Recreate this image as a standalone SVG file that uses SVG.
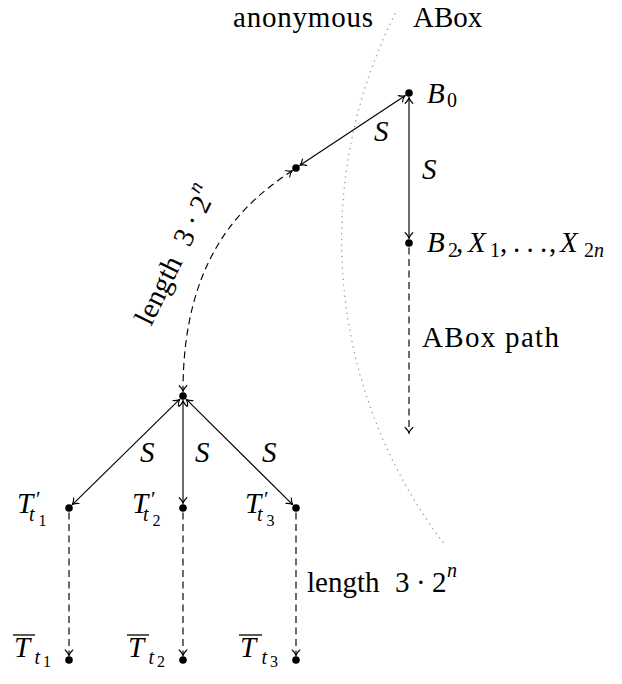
<svg xmlns="http://www.w3.org/2000/svg" width="622" height="684" viewBox="0 0 622 684">
<style>
text{font-family:"Liberation Serif","DejaVu Serif",serif;font-size:29px;fill:#000}
.it{font-style:italic}
.sub{font-size:20px}
.ss{font-size:16px}
.pr{font-size:21px}
.edge{fill:none;stroke:#000;stroke-width:1.15}
.dash{stroke-dasharray:7 4.5}
.dot{fill:#000}
.bar{stroke:#000;stroke-width:1.3}
.sep{fill:none;stroke:#9a9a9a;stroke-width:1.4;stroke-dasharray:0.1 5.6;stroke-linecap:round}
</style>
<defs>
<marker id="arr" markerUnits="userSpaceOnUse" viewBox="-7 -7 14 14" markerWidth="14" markerHeight="14" refX="0" refY="0" orient="auto-start-reverse" overflow="visible">
<path d="M-5.5,-3.8 C-3.5,-1.6 -1.2,-0.4 0,0 C-1.2,0.4 -3.5,1.6 -5.5,3.8" fill="none" stroke="#000" stroke-width="1.15" stroke-linecap="round"/>
</marker>
</defs>

<g id="separator">
<path class="sep" d="M395,14 A503,503 0 0 0 445,545"/>
<text x="233" y="27" textLength="140">anonymous</text>
<text x="413" y="27">ABox</text>
</g>

<g id="connectors">
<path class="edge" d="M300,165.3 L405,95.7" marker-start="url(#arr)" marker-end="url(#arr)"/>
<path class="edge" d="M409,97.8 V238.2" marker-start="url(#arr)" marker-end="url(#arr)"/>
<path class="edge dash" d="M409,247.5 V433" marker-end="url(#arr)"/>
<path class="edge dash" d="M292.2,170.7 C240,205 183,260 183,391.2" marker-start="url(#arr)" marker-end="url(#arr)"/>
<path class="edge" d="M179.6,399.4 L72.4,504.6" marker-start="url(#arr)" marker-end="url(#arr)"/>
<path class="edge" d="M183,400.8 V503.2" marker-start="url(#arr)" marker-end="url(#arr)"/>
<path class="edge" d="M186.4,399.4 L292.6,504.6" marker-start="url(#arr)" marker-end="url(#arr)"/>
<path class="edge dash" d="M69,512.5 V655.5" marker-end="url(#arr)"/>
<path class="edge dash" d="M183,512.5 V655.5" marker-end="url(#arr)"/>
<path class="edge dash" d="M296,512.5 V655.5" marker-end="url(#arr)"/>
<text class="it" x="374" y="141">S</text>
<text class="it" x="422" y="179">S</text>
<text x="422" y="347" textLength="137">ABox path</text>
<text transform="translate(151,327) rotate(-64)"><tspan x="0">length</tspan><tspan x="88">3</tspan><tspan x="109">·</tspan><tspan x="125">2</tspan><tspan class="sub it" x="140" dy="-15">n</tspan></text>
<text class="it" x="140" y="462">S</text>
<text class="it" x="195" y="462">S</text>
<text class="it" x="262" y="462">S</text>
<text x="307" y="592"><tspan x="307">length</tspan><tspan x="395">3</tspan><tspan x="416">·</tspan><tspan x="432">2</tspan><tspan class="sub it" x="447" y="577">n</tspan></text>
</g>

<g id="node-B0">
<circle class="dot" cx="409" cy="93" r="3.8"/>
<text x="427" y="103"><tspan class="it">B</tspan><tspan class="sub" x="447" y="107">0</tspan></text>
</g>
<g id="node-anon">
<circle class="dot" cx="296" cy="168" r="3.8"/>
</g>
<g id="node-B2">
<circle class="dot" cx="409" cy="243" r="3.8"/>
<text x="427" y="252"><tspan class="it">B</tspan><tspan class="sub" x="448" y="257">2</tspan><tspan x="456" y="252">,</tspan><tspan class="it" x="468">X</tspan><tspan class="sub" x="490" y="257">1</tspan><tspan x="500" y="252">,</tspan><tspan x="513 526.5 540">...</tspan><tspan x="549">,</tspan><tspan class="it" x="560">X</tspan><tspan class="sub" x="584" y="257">2</tspan><tspan class="sub it">n</tspan></text>
</g>
<g id="node-hub">
<circle class="dot" cx="183" cy="396" r="3.8"/>
</g>
<g id="node-Tp1">
<circle class="dot" cx="69" cy="508" r="3.8"/>
<text x="17" y="513"><tspan class="it">T</tspan><tspan class="pr" x="36" y="505.5">′</tspan><tspan class="sub it" x="29" y="521">t</tspan><tspan class="ss" x="38.5" y="526">1</tspan></text>
</g>
<g id="node-Tp2">
<circle class="dot" cx="183" cy="508" r="3.8"/>
<text x="132" y="513"><tspan class="it">T</tspan><tspan class="pr" x="151" y="505.5">′</tspan><tspan class="sub it" x="143" y="521">t</tspan><tspan class="ss" x="152.5" y="526">2</tspan></text>
</g>
<g id="node-Tp3">
<circle class="dot" cx="296" cy="508" r="3.8"/>
<text x="245" y="513"><tspan class="it">T</tspan><tspan class="pr" x="264" y="505.5">′</tspan><tspan class="sub it" x="257" y="521">t</tspan><tspan class="ss" x="266.5" y="526">3</tspan></text>
</g>
<g id="node-Tb1">
<circle class="dot" cx="69" cy="660" r="3.8"/>
<line class="bar" x1="13" y1="635" x2="35" y2="635"/>
<text x="14" y="657"><tspan class="it">T</tspan><tspan class="sub it" x="34.5" y="664">t</tspan><tspan class="ss" x="43" y="667">1</tspan></text>
</g>
<g id="node-Tb2">
<circle class="dot" cx="183" cy="660" r="3.8"/>
<line class="bar" x1="127" y1="635" x2="149" y2="635"/>
<text x="128" y="657"><tspan class="it">T</tspan><tspan class="sub it" x="148.5" y="664">t</tspan><tspan class="ss" x="157" y="667">2</tspan></text>
</g>
<g id="node-Tb3">
<circle class="dot" cx="296" cy="660" r="3.8"/>
<line class="bar" x1="239" y1="635" x2="262" y2="635"/>
<text x="240" y="657"><tspan class="it">T</tspan><tspan class="sub it" x="261.5" y="664">t</tspan><tspan class="ss" x="270" y="667">3</tspan></text>
</g>
</svg>
